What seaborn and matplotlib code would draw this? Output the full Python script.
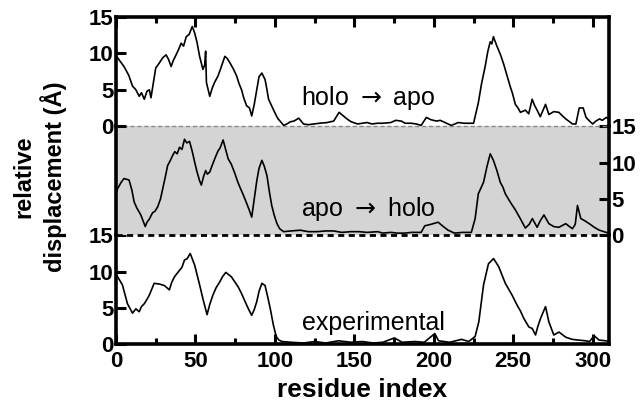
import matplotlib
matplotlib.use("Agg")
import matplotlib.pyplot as plt
from matplotlib.ticker import MultipleLocator
import numpy as np
import seaborn as sns

# ---------------- data ----------------
holo_apo_x = [0, 1, 5, 8, 10.4, 12.5, 14.6, 16, 17.8, 19.5, 21, 22, 25, 27, 29.4, 31.5, 33, 34.7, 36, 37.8,
              39.5, 41, 42.5, 44.2, 46, 48, 49.5, 51, 52.6, 54.7, 55.8, 56.4, 56.9, 59, 60.5, 62, 64.2, 66,
              68.5, 70, 71.7, 74, 75.9, 77.5, 79, 80.5, 82.2, 84, 85.4, 87, 88.6, 90, 91.8, 93.8, 95, 96,
              97.5, 99, 100.5, 102, 104, 105.5, 107.5, 109.7, 112, 115, 118, 121, 124.6, 128, 133, 137,
              140.4, 142, 145.6, 148, 152, 155, 158, 161, 164.6, 168, 173, 176, 179.5, 182, 185.8, 189,
              192, 195.3, 198, 201.6, 204, 207, 211, 215.4, 219, 222, 225, 228, 230, 232.3, 234, 235.5,
              236.5, 237.5, 239.7, 242, 244, 246, 248, 249.5, 251.3, 253, 254.5, 257.6, 259.7, 261.9,
              263.5, 265, 267, 270.3, 272.4, 275.5, 278.7, 281, 283, 287.3, 289.4, 291.5, 294, 295.8,
              298, 300, 302, 304.3, 306, 308.5, 310]
holo_apo_y = [9.6, 9.4, 8.2, 7.0, 5.5, 5.0, 4.1, 4.6, 3.7, 4.8, 5.0, 3.9, 8.0, 8.6, 9.4, 9.8, 9.2, 8.2, 9.0, 9.8,
              10.6, 11.4, 11.0, 12.3, 12.6, 13.7, 12.8, 11.5, 9.6, 7.8, 8.4, 10.3, 6.0, 4.1, 5.2, 6.0, 6.9, 8.0,
              9.6, 9.3, 8.7, 7.8, 6.9, 5.8, 5.0, 3.8, 2.8, 2.5, 1.4, 3.0, 5.0, 6.8, 7.3, 6.4, 5.0, 3.7,
              3.0, 2.3, 1.6, 1.0, 0.5, 0.1, 0.3, 0.6, 0.7, 1.1, 0.3, 0.2, 0.3, 0.4, 0.5, 0.7,
              1.9, 1.6, 0.95, 0.6, 0.3, 0.4, 0.5, 0.3, 0.4, 0.4, 0.5, 0.8, 0.7, 0.4, 0.4, 0.3,
              0.1, 1.2, 0.9, 0.7, 0.8, 0.5, 0.1, 0.5, 0.4, 0.4, 0.4, 3.2, 5.8, 8.2, 10.3, 11.6,
              11.3, 12.3, 11.0, 9.8, 8.5, 7.0, 5.5, 4.5, 3.0, 2.5, 1.9, 2.2, 1.7, 3.7,
              2.8, 2.2, 1.3, 3.0, 1.6, 2.0, 1.9, 1.4, 1.0, 0.3, 0.3, 2.5, 2.5, 1.2,
              0.7, 0.3, 0.7, 1.0, 0.8, 1.2, 1.0]

apo_holo_x = [0, 1, 3, 5, 8.2, 10, 11.4, 13, 15.6, 17, 18.4, 19.5, 20.9, 23, 24.5, 26.2, 28, 29.4, 31, 32.5,
              34, 35.7, 37, 38.5, 40, 41.5, 43.1, 44.5, 46.3, 48, 49.5, 51, 52.6, 53.7, 55, 56.4, 57.5, 59,
              60.5, 62.1, 64.2, 65.5, 67.4, 69, 70.6, 72.5, 74.8, 76.5, 78, 80, 82.2, 83.8, 85.4, 87, 88.6,
              90, 91.8, 93.3, 95, 96.5, 98, 99.5, 101.3, 103, 105.5, 110, 116, 121, 126.6, 132, 137, 142,
              147.8, 153, 158, 164.6, 168, 173, 177, 181.5, 186, 192, 194.3, 198, 202.7, 206, 209, 213,
              218, 223.6, 226, 228, 231.3, 233.5, 235.5, 237.5, 239.7, 241.8, 243.5, 245, 248, 251.3,
              254.4, 257.6, 260, 262, 265, 267, 269.3, 272.4, 275.5, 278.7, 283, 287.2, 289, 290.4,
              292.5, 295, 297.8, 301, 304.2, 308.5, 310]
apo_holo_y = [5.8, 6.4, 7.2, 7.8, 7.6, 6.2, 4.6, 3.8, 2.8, 2.0, 1.2, 1.8, 2.2, 3.1, 3.3, 3.9, 5.0, 6.4, 8.0, 9.6,
              10.2, 11.0, 11.5, 11.2, 12.1, 11.8, 13.2, 12.7, 12.9, 11.5, 10.05, 8.7, 7.5, 6.9, 8.0, 8.9, 8.4, 8.7,
              9.6, 10.5, 11.6, 12.0, 13.1, 11.8, 10.5, 9.8, 8.5, 7.4, 6.6, 5.6, 4.4, 3.5, 2.5, 5.0, 7.5,
              9.2, 10.3, 9.5, 8.2, 6.0, 4.1, 2.8, 1.6, 0.9, 0.5, 0.6, 0.7, 0.5, 0.5, 0.6, 0.6, 0.4,
              0.5, 0.5, 0.4, 0.5, 0.3, 0.4, 0.3, 0.3, 0.4, 0.4, 1.3, 1.5, 1.8, 1.2, 0.7, 0.3,
              0.4, 0.4, 2.3, 5.7, 7.3, 9.5, 11.2, 10.3, 8.9, 7.3, 6.6, 5.7, 4.6, 3.5,
              2.3, 1.0, 1.5, 2.3, 1.1, 2.0, 2.8, 1.6, 1.2, 1.1, 1.6, 0.9, 1.5, 4.1,
              2.3, 2.0, 1.6, 1.1, 0.7, 0.4, 0.3]

exp_x = [0, 1, 4, 7.2, 10.4, 12.5, 14.6, 16, 17.8, 19.5, 21, 24, 27.3, 30.4, 33.6, 35, 36.8, 40, 41.5, 43.1,
         44.8, 46.7, 49.5, 52.6, 55, 57.3, 59, 61, 63, 65.3, 67, 69.1, 72.6, 76.9, 79, 81.2, 83.3, 85.4, 87,
         88.6, 90, 91.8, 93.8, 95.5, 97, 99, 100.8, 102.5, 104.5, 110, 118, 125, 132, 140, 148, 155, 162,
         168, 175.2, 180, 188, 194, 200.6, 203, 210, 217.5, 222, 226, 228.3, 231.3, 234.4, 237.6, 240.8,
         245, 249.2, 252.4, 254.5, 256.6, 259.8, 261.9, 264, 265.5, 267.2, 270.3, 272.4, 275.5, 278.8,
         283, 287, 291, 295.6, 298, 300.9, 304, 308.3, 310]
exp_y = [9.6, 9.3, 8.2, 5.6, 4.3, 4.9, 4.5, 5.2, 5.6, 6.2, 6.8, 8.4, 8.3, 8.1, 7.5, 8.5, 9.3, 10.2, 10.6, 11.6,
         11.8, 12.5, 10.9, 8.2, 6.0, 4.1, 5.5, 6.8, 7.8, 8.6, 9.3, 9.9, 9.3, 7.9, 7.0, 5.9, 4.9, 4.0, 4.8,
         5.9, 7.3, 8.4, 8.1, 6.5, 5.0, 2.7, 1.1, 0.6, 0.4, 0.3, 0.2, 0.4, 0.2, 0.5, 0.3, 0.4, 0.2,
         0.3, 0.9, 0.3, 0.4, 0.3, 1.5, 0.5, 0.3, 0.7, 0.4, 1.1, 3.1, 8.2, 11.1, 11.8, 10.7,
         8.4, 6.8, 5.4, 4.6, 3.6, 2.4, 2.2, 1.3, 2.5, 3.6, 5.2, 3.1, 1.3, 1.7,
         1.0, 0.7, 0.6, 0.5, 0.4, 1.2, 0.6, 0.5, 0.4]

y_ticks = [0, 5, 10, 15]
x_major = [0, 50, 100, 150, 200, 250, 300]
labels = ["holo $\\rightarrow$ apo", "apo $\\rightarrow$ holo", "experimental"]

# ---------------- styling ----------------
sns.set_style("ticks")
plt.rcParams['font.family'] = ['Liberation Sans', 'DejaVu Sans']
plt.rcParams['text.color'] = 'black'
plt.rcParams['axes.labelcolor'] = 'black'
plt.rcParams['xtick.color'] = 'black'
plt.rcParams['ytick.color'] = 'black'
plt.rcParams['xtick.labelcolor'] = 'black'
plt.rcParams['ytick.labelcolor'] = 'black'

fig = plt.figure(figsize=(6.42, 4.15), dpi=100)
L, R = 0.1807, 0.948
B, T = 0.170, 0.959
h = (T - B) / 3
ax_bot = fig.add_axes([L, B, R - L, h])
ax_mid = fig.add_axes([L, B + h, R - L, h])
ax_top = fig.add_axes([L, B + 2 * h, R - L, h])

SPW = 2.6
TICK_FS = 16
ANN_FS = 18
for ax, xs, ys in [(ax_top, holo_apo_x, holo_apo_y),
                   (ax_mid, apo_holo_x, apo_holo_y),
                   (ax_bot, exp_x, exp_y)]:
    sns.lineplot(x=np.array(xs), y=np.array(ys), ax=ax, color="black", lw=1.2)
    ax.set_xlim(0, 310)
    ax.set_ylim(0, 15)
    ax.set_xlabel("")
    ax.set_ylabel("")
    for s in ax.spines.values():
        s.set_linewidth(SPW)
        s.set_color("black")
    ax.tick_params(which="both", direction="in", width=2.2, color="black",
                   labelcolor="black", labelsize=TICK_FS, pad=2)
    ax.tick_params(which="major", length=7)
    ax.tick_params(which="minor", length=4)
    ax.set_yticks(y_ticks)
    for lab in ax.get_yticklabels():
        lab.set_fontweight("bold")

# top panel
ax_top.set_facecolor("none")
ax_top.spines["bottom"].set_visible(False)
ax_top.xaxis.tick_top()
ax_top.set_xticks(x_major)
ax_top.xaxis.set_minor_locator(MultipleLocator(25))
ax_top.tick_params(axis="x", which="both", labeltop=False, labelbottom=False)
ax_top.tick_params(axis="y", right=False)
ax_top.text(159, 3.9, labels[0], ha="center", va="center", fontsize=ANN_FS, color="black")

# middle panel
ax_mid.set_facecolor("#d4d4d4")
ax_mid.spines["top"].set_visible(False)
ax_mid.spines["bottom"].set_visible(False)
ax_mid.tick_params(axis="x", which="both", bottom=False, top=False,
                   labelbottom=False)
ax_mid.yaxis.tick_right()
ax_mid.tick_params(axis="y", left=False, labelleft=False, right=True, labelright=True)
for lab in ax_mid.get_yticklabels():
    lab.set_fontweight("bold")
ax_mid.axhline(15, color="#888888", ls=(0, (3, 2)), lw=1.0, clip_on=False, zorder=5)
ax_mid.axhline(0, color="black", ls=(0, (2.2, 1.6)), lw=2.0, clip_on=False, zorder=5)
ax_mid.text(159, 3.6, labels[1], ha="center", va="center", fontsize=ANN_FS, color="black")

# bottom panel
ax_bot.spines["top"].set_visible(False)
ax_bot.set_xticks(x_major)
ax_bot.xaxis.set_minor_locator(MultipleLocator(25))
ax_bot.tick_params(axis="x", which="both", top=False, pad=5)
ax_bot.tick_params(axis="y", right=False)
for lab in ax_bot.get_xticklabels():
    lab.set_fontweight("bold")
ax_bot.text(162, 2.9, labels[2], ha="center", va="center", fontsize=ANN_FS, color="black")
ax_bot.set_xlabel("residue index", fontsize=19, fontweight="bold", labelpad=4, color="black")

fig.text(0.062, 0.573, "relative\ndisplacement (\u00c5)", rotation=90,
         ha="center", va="center", fontsize=17, fontweight="bold",
         multialignment="center", linespacing=1.25, color="black")

fig.savefig("out.png", dpi=100)
